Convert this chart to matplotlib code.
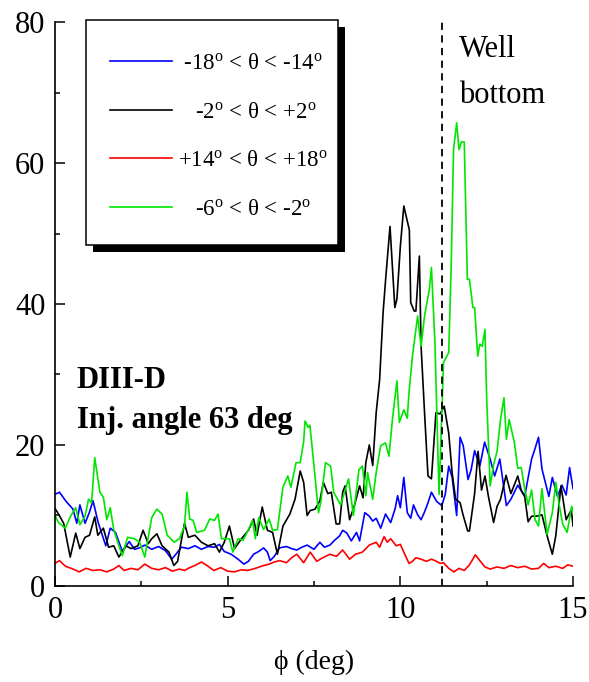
import matplotlib
matplotlib.use("Agg")
import matplotlib.pyplot as plt
import matplotlib.patheffects as pe
from matplotlib.patches import Rectangle
from matplotlib.ticker import MultipleLocator

plt.rcParams['font.family'] = ['Liberation Serif', 'DejaVu Serif']
plt.rcParams['mathtext.fontset'] = 'custom'
plt.rcParams['mathtext.rm'] = 'Liberation Serif'
plt.rcParams['mathtext.it'] = 'Liberation Serif:italic'
plt.rcParams['mathtext.bf'] = 'Liberation Serif:bold'

# -18 < theta < -14 (blue)
phi_blue = [0.0, 0.13, 0.32, 0.52, 0.63, 0.72, 0.87, 1.0, 1.1, 1.25, 1.47, 1.6, 1.75, 1.95, 2.15, 2.3,
            2.44, 2.6, 2.8, 3.0, 3.2, 3.38, 3.5, 3.66, 3.86, 4.05, 4.24, 4.43, 4.62, 4.76, 4.9, 5.1,
            5.3, 5.47, 5.6, 5.75, 5.9, 6.04, 6.15, 6.23, 6.35, 6.5, 6.7, 6.85, 7.0, 7.15, 7.3, 7.5,
            7.67, 7.8, 7.96, 8.1, 8.24, 8.33, 8.45, 8.58, 8.73, 8.82, 8.97, 9.1, 9.2, 9.3, 9.43, 9.57,
            9.72, 9.85, 9.92, 10.0, 10.1, 10.2, 10.3, 10.38, 10.5, 10.6, 10.7, 10.8, 10.9, 11.05, 11.2,
            11.3, 11.4, 11.5, 11.63, 11.73, 11.82, 11.96, 12.05, 12.15, 12.3, 12.44, 12.6, 12.73, 12.88,
            13.07, 13.2, 13.4, 13.6, 13.8, 13.9, 14.0, 14.1, 14.3, 14.4, 14.55, 14.68, 14.8, 14.9, 15.0]
y_blue = [13.0, 13.3, 12.0, 10.9, 8.9, 11.5, 8.9, 10.5, 12.1, 9.0, 5.7, 8.2, 7.6, 4.9, 6.3, 5.2,
          5.4, 5.8, 5.2, 5.6, 5.0, 3.8, 4.5, 5.5, 5.3, 5.7, 5.2, 5.6, 5.5, 5.9, 4.9, 4.5,
          3.8, 3.1, 3.5, 4.5, 4.9, 5.4, 4.8, 3.6, 4.2, 5.4, 5.6, 5.3, 5.1, 5.5, 5.8, 5.2,
          6.2, 5.5, 5.8, 6.5, 7.1, 7.9, 7.5, 6.4, 7.6, 6.4, 10.4, 9.9, 9.2, 9.6, 8.2, 10.2,
          9.0, 11.0, 12.8, 11.1, 15.4, 10.4, 9.6, 11.5, 10.1, 9.4, 10.5, 11.8, 13.3, 12.0, 11.4,
          13.0, 17.0, 15.4, 10.0, 21.1, 19.9, 15.1, 16.5, 19.2, 17.0, 20.4, 18.0, 15.6, 18.0,
          11.4, 12.3, 14.3, 12.7, 18.0, 19.5, 21.1, 16.6, 12.7, 15.4, 12.7, 14.3, 12.9, 16.8, 13.8]

# -2 < theta < +2 (black)
phi_black = [0.0, 0.1, 0.25, 0.44, 0.6, 0.72, 0.87, 1.0, 1.15, 1.24, 1.4, 1.55, 1.7, 1.85, 2.05, 2.2,
             2.4, 2.55, 2.7, 2.8, 2.95, 3.1, 3.3, 3.44, 3.55, 3.63, 3.75, 3.86, 4.05, 4.24, 4.43, 4.62,
             4.76, 4.9, 5.05, 5.2, 5.4, 5.6, 5.75, 5.85, 6.0, 6.15, 6.3, 6.44, 6.6, 6.8, 6.95, 7.1,
             7.2, 7.3, 7.39, 7.53, 7.67, 7.77, 7.9, 8.0, 8.14, 8.24, 8.33, 8.4, 8.53, 8.68, 8.82, 8.92,
             9.0, 9.1, 9.2, 9.3, 9.4, 9.5, 9.58, 9.7, 9.84, 9.9, 10.0, 10.1, 10.26, 10.3, 10.4, 10.45,
             10.55, 10.6, 10.7, 10.8, 10.9, 11.03, 11.15, 11.27, 11.4, 11.5, 11.6, 11.73, 11.82, 11.95,
             12.0, 12.15, 12.25, 12.35, 12.45, 12.55, 12.7, 12.8, 12.9, 13.06, 13.2, 13.4, 13.5, 13.6,
             13.7, 13.8, 13.95, 14.1, 14.25, 14.4, 14.5, 14.65, 14.8, 14.95, 15.0]
y_black = [11.0, 10.2, 8.9, 4.1, 7.5, 5.3, 6.9, 7.2, 9.8, 7.2, 8.2, 5.5, 5.7, 4.1, 5.7, 5.3,
           5.7, 7.9, 6.0, 6.7, 7.4, 5.7, 4.8, 2.9, 3.5, 5.7, 8.9, 6.9, 7.2, 6.2, 5.7, 6.0,
           4.8, 6.2, 8.5, 5.3, 6.7, 7.9, 9.5, 7.2, 11.2, 7.9, 7.6, 4.5, 8.5, 10.2, 12.3, 16.3,
           14.7, 10.0, 10.7, 10.9, 12.1, 14.7, 13.1, 13.3, 8.8, 8.8, 13.3, 14.2, 9.4, 11.6, 14.2, 12.5,
           17.5, 20.0, 17.1, 24.6, 29.3, 38.8, 43.9, 51.0, 39.5, 40.7, 48.2, 53.9, 50.5, 40.2, 39.0, 39.0,
           46.8, 34.0, 24.6, 15.6, 15.2, 24.6, 24.4, 25.5, 21.7, 16.0, 12.3, 11.8, 10.0, 7.8,
           7.8, 13.1, 19.1, 13.6, 15.6, 12.7, 9.0, 11.3, 12.3, 15.7, 13.1, 15.6, 13.6, 12.7,
           9.1, 9.9, 9.9, 10.1, 7.1, 4.5, 7.1, 14.2, 9.4, 10.8, 8.5]

# +14 < theta < +18 (red)
phi_red = [0.0, 0.13, 0.3, 0.52, 0.7, 0.9, 1.1, 1.3, 1.5, 1.7, 1.85, 2.0, 2.2, 2.4, 2.6, 2.8,
           3.0, 3.2, 3.4, 3.6, 3.75, 3.9, 4.05, 4.24, 4.4, 4.6, 4.8, 5.0, 5.2, 5.4, 5.58, 5.8,
           6.04, 6.2, 6.35, 6.5, 6.7, 6.85, 7.0, 7.2, 7.39, 7.58, 7.75, 7.96, 8.15, 8.33, 8.53, 8.7,
           8.9, 9.1, 9.3, 9.4, 9.53, 9.62, 9.72, 9.88, 10.0, 10.1, 10.25, 10.35, 10.45, 10.6, 10.75,
           10.9, 11.0, 11.16, 11.25, 11.4, 11.55, 11.7, 11.85, 12.0, 12.17, 12.3, 12.45, 12.6, 12.8,
           13.0, 13.2, 13.4, 13.6, 13.8, 14.0, 14.15, 14.3, 14.5, 14.7, 14.85, 15.0]
y_red = [3.2, 3.6, 2.8, 2.4, 2.0, 2.5, 2.2, 2.3, 2.0, 2.4, 2.9, 2.2, 2.5, 2.3, 3.1, 2.5,
         2.3, 2.6, 2.1, 2.4, 2.2, 2.6, 2.9, 3.4, 2.9, 2.2, 2.6, 2.1, 2.0, 2.3, 2.2, 2.5,
         2.9, 3.1, 3.4, 3.6, 3.3, 4.0, 4.5, 3.3, 4.8, 3.5, 4.0, 4.5, 4.2, 5.1, 3.8, 4.5,
         4.8, 5.8, 6.2, 5.5, 7.0, 6.2, 6.7, 5.7, 5.9, 4.8, 3.2, 3.5, 4.0, 3.8, 3.5,
         3.8, 3.6, 3.2, 3.3, 2.5, 2.0, 2.5, 2.2, 3.0, 4.4, 3.6, 2.7, 2.4, 2.7,
         2.5, 2.9, 2.6, 2.8, 2.4, 2.5, 3.2, 2.6, 2.8, 2.5, 3.0, 2.8]

# -6 < theta < -2 (green)
phi_green = [0.0, 0.1, 0.3, 0.45, 0.6, 0.72, 0.87, 0.97, 1.06, 1.15, 1.3, 1.4, 1.5, 1.6, 1.7, 1.85,
             1.95, 2.1, 2.3, 2.45, 2.6, 2.8, 2.95, 3.1, 3.25, 3.45, 3.6, 3.75, 3.82, 3.9, 4.0, 4.1,
             4.33, 4.48, 4.62, 4.72, 4.82, 5.05, 5.15, 5.3, 5.45, 5.6, 5.72, 5.8, 5.9, 6.04, 6.2, 6.3,
             6.44, 6.6, 6.74, 6.83, 6.98, 7.1, 7.2, 7.24, 7.33, 7.38, 7.5, 7.63, 7.7, 7.83, 7.98, 8.07,
             8.27, 8.5, 8.64, 8.8, 8.9, 9.0, 9.05, 9.2, 9.3, 9.43, 9.57, 9.67, 9.77, 9.9, 9.97, 10.1,
             10.2, 10.25, 10.35, 10.5, 10.6, 10.7, 10.84, 10.9, 11.0, 11.12, 11.2, 11.25, 11.4, 11.47,
             11.54, 11.63, 11.7, 11.77, 11.85, 11.94, 12.0, 12.1, 12.15, 12.24, 12.3, 12.37, 12.45,
             12.5, 12.6, 12.7, 12.8, 12.9, 13.0, 13.07, 13.15, 13.3, 13.4, 13.5, 13.6, 13.7, 13.8,
             13.9, 14.0, 14.1, 14.25, 14.4, 14.5, 14.6, 14.7, 14.83, 14.96, 15.0]
y_green = [10.0, 9.0, 8.2, 9.9, 11.1, 8.7, 9.9, 12.3, 11.8, 18.2, 13.3, 12.6, 9.4, 11.1, 8.0, 5.7,
           4.3, 6.9, 6.7, 6.2, 4.1, 9.7, 10.9, 10.2, 7.2, 6.2, 6.7, 8.5, 13.3, 9.5, 9.3, 7.6,
           7.9, 9.5, 9.3, 10.2, 6.7, 6.7, 4.8, 6.7, 6.5, 8.0, 9.3, 6.7, 9.7, 8.0, 9.5, 7.9,
           8.0, 14.0, 15.6, 14.0, 17.5, 17.5, 20.5, 23.4, 22.5, 22.8, 17.0, 10.4, 12.0, 17.5, 17.0, 13.3,
           11.5, 15.2, 10.0, 16.5, 17.0, 12.8, 16.1, 12.3, 16.1, 19.9, 20.3, 18.4, 23.6, 29.1, 23.2, 25.0,
           23.8, 27.4, 32.6, 38.3, 34.0, 38.3, 42.1, 45.2, 34.6, 13.0, 24.6, 31.7, 33.1, 45.0,
           61.9, 65.7, 61.9, 63.0, 63.0, 43.5, 43.5, 39.5, 39.5, 32.6, 34.3, 34.0, 36.4,
           26.5, 14.2, 17.2, 19.1, 23.6, 26.7, 20.8, 23.6, 20.4, 16.7, 16.8, 13.8, 11.5, 13.6,
           9.4, 8.5, 13.8, 7.3, 10.4, 14.7, 11.5, 8.8, 7.6, 11.3, 10.6]

labels = [' -18$^{\\rm o}$ < θ < -14$^{\\rm o}$',
          '   -2$^{\\rm o}$ < θ < +2$^{\\rm o}$',
          '+14$^{\\rm o}$ < θ < +18$^{\\rm o}$',
          '   -6$^{\\rm o}$ < θ < -2$^{\\rm o}$']
colors = ['#0000ff', '#000000', '#ff0000', '#00e600']
well_bottom = 11.2

fig = plt.figure(figsize=(5.89, 6.82), dpi=100)
ax = fig.add_axes([0.0934, 0.1408, 0.8795, 0.8269])

series = [(phi_blue, y_blue), (phi_black, y_black), (phi_red, y_red), (phi_green, y_green)]
for (xs, ys), c, lab in zip(series, colors, labels):
    ax.plot(xs, ys, color=c, lw=1.2, label=lab)

ax.axvline(well_bottom, color='black', lw=1.3, ls=(0, (4, 3)))

ax.set_xlim(0, 15)
ax.set_ylim(0, 80)
ax.xaxis.set_major_locator(MultipleLocator(5))
ax.xaxis.set_minor_locator(MultipleLocator(2.5))
ax.yaxis.set_major_locator(MultipleLocator(20))
ax.yaxis.set_minor_locator(MultipleLocator(10))
for s in ['top', 'right']:
    ax.spines[s].set_visible(False)
for s in ['left', 'bottom']:
    ax.spines[s].set_linewidth(1.2)
ax.tick_params(which='both', direction='in', width=1.1, labelsize=22)
ax.tick_params(which='major', length=7)
ax.tick_params(which='minor', length=3.5)
ax.tick_params(axis='x', pad=7)
ax.tick_params(axis='y', pad=7)
ax.set_xlabel('\u03d5 (deg)', fontsize=20, labelpad=18)

# legend box with hard shadow
frame = Rectangle((0.0598, 0.6046), 0.4865, 0.3989, transform=ax.transAxes,
                  facecolor='white', edgecolor='black', lw=1.1, clip_on=False, zorder=5)
frame.set_path_effects([pe.SimplePatchShadow(offset=(4.8, -5.0), shadow_rgbFace='black', alpha=1.0),
                        pe.Normal()])
ax.add_patch(frame)
leg = ax.legend(loc='center', bbox_to_anchor=(0.316, 0.797), frameon=False, fontsize=16.5,
                handlelength=2.7, handletextpad=0.25, labelspacing=1.2)
leg.set_zorder(6)

ax.text(0.63, 28.1, 'DIII-D', fontsize=22, fontweight='bold', va='baseline')
ax.text(0.63, 22.4, 'Inj. angle 63 deg', fontsize=22, fontweight='bold', va='baseline')
ax.text(11.7, 75.0, 'Well', fontsize=22, va='baseline')
ax.text(11.7, 68.5, 'bottom', fontsize=22, va='baseline')

fig.savefig('out.png', dpi=100)
